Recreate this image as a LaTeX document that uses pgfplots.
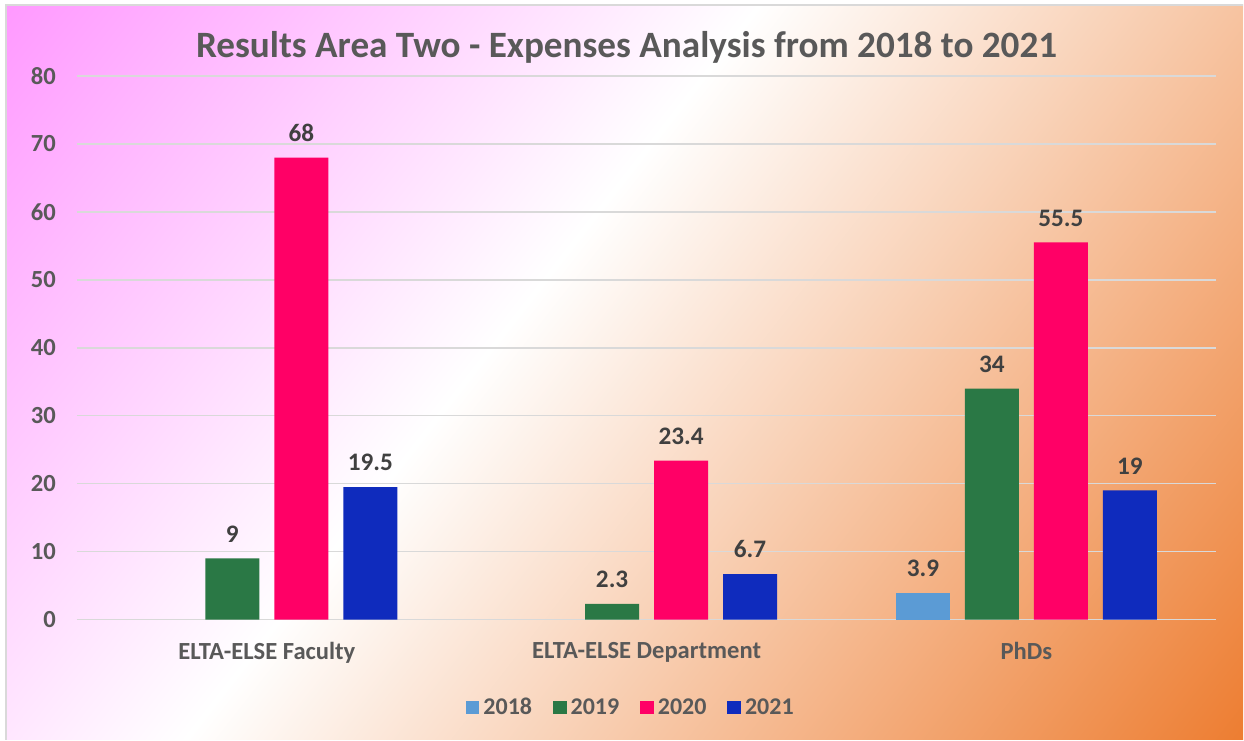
\documentclass[border=0pt]{standalone}
\usepackage{pgfplots}
\pgfplotsset{compat=1.18}
\usepackage{fontspec}
\setmainfont{Carlito}

\definecolor{c2018}{HTML}{5B9BD5}
\definecolor{c2019}{HTML}{2A7845}
\definecolor{c2020}{HTML}{FF0066}
\definecolor{c2021}{HTML}{0F2BBD}
\definecolor{txt}{HTML}{595959}
\definecolor{lbl}{HTML}{404040}
\definecolor{gridc}{HTML}{D9D9D9}
\definecolor{bgpink}{HTML}{FF99FF}
\definecolor{bgorange}{HTML}{ED7D31}

% pink -> white -> orange, white a bit left of the middle
\pgfdeclarehorizontalshading{bgshade}{100bp}{color(0bp)=(bgpink); color(25bp)=(bgpink);
  color(45.8bp)=(white); color(75bp)=(bgorange); color(100bp)=(bgorange)}

\begin{document}
\begin{tikzpicture}
% chart area with diagonal gradient fill
\fill[white] (0pt,0pt) rectangle (622pt,370pt);
\begin{scope}
\clip (3pt,0pt) rectangle (622pt,367.5pt);
\begin{scope}[transform canvas={rotate around={-38:(312.5pt,183.75pt)}}]
\shade[shading=bgshade] (-44.5pt,-152pt) rectangle (669.5pt,520pt);
\end{scope}
\end{scope}
\draw[gridc,line width=0.8pt] (3pt,0pt) -- (3pt,367.5pt) -- (622pt,367.5pt);

\node[text=txt,font=\fontsize{18.6}{21}\selectfont\bfseries] at (313.5pt,346.5pt)
  {Results Area Two - Expenses Analysis from 2018 to 2021};

\begin{axis}[at={(38.5pt,60pt)},anchor=south west,
scale only axis,width=570pt,height=272pt,
ybar=7.5pt,bar width=27pt,
xmin=-0.5,xmax=2.5,ymin=0,ymax=80,
xtick={0,1,2},xticklabels={ELTA-ELSE Faculty,ELTA-ELSE Department,PhDs},
ytick={0,10,...,80},
/pgf/number format/assume math mode=true,
axis line style={draw=none},major tick length=0pt,
ymajorgrids=true,grid style={gridc,line width=0.75pt},
ticklabel style={text=txt,font=\fontsize{12.3}{14}\selectfont\bfseries},
yticklabel style={xshift=-7pt},
xticklabel style={yshift=-8pt},
nodes near coords,
every node near coord/.append style={text=lbl,font=\fontsize{12.6}{14}\selectfont\bfseries,yshift=4.5pt},
legend style={at={(0.487,-0.162)},anchor=center,draw=none,fill=none,
  legend columns=4,text=txt,font=\fontsize{12}{14}\selectfont\bfseries,
  /tikz/every even column/.append style={column sep=8.5pt}},
legend image code/.code={\fill[#1] (0pt,-3.4pt) rectangle (6.8pt,3.4pt);}
]
\addplot[fill=c2018,draw=none] coordinates {(2,3.9)};
\addlegendentry{2018}
\addplot[fill=c2019,draw=none] coordinates {(0,9) (1,2.3) (2,34)};
\addlegendentry{2019}
\addplot[fill=c2020,draw=none] coordinates {(0,68) (1,23.4) (2,55.5)};
\addlegendentry{2020}
\addplot[fill=c2021,draw=none] coordinates {(0,19.5) (1,6.7) (2,19)};
\addlegendentry{2021}
\end{axis}
\end{tikzpicture}
\end{document}
